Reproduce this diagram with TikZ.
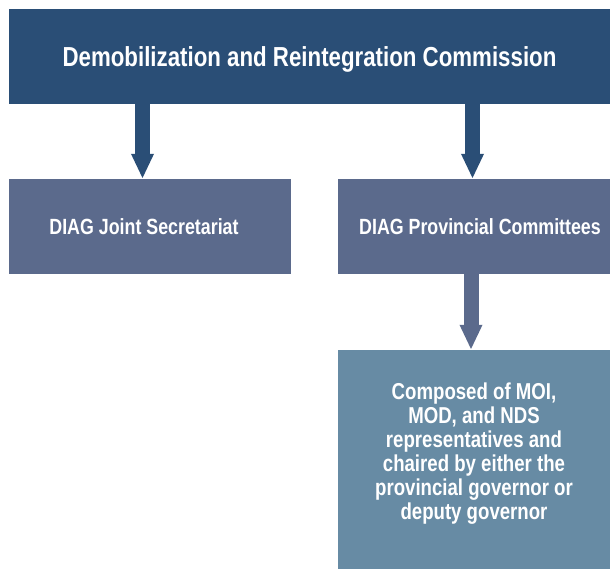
\documentclass[tikz,border=0pt]{standalone}
\usepackage{fontspec}
\setmainfont{Liberation Sans}[FakeStretch=0.81]
\usepackage{tikz}
\usetikzlibrary{arrows.meta}
\usepackage{xcolor}

\definecolor{topblue}{HTML}{2A4E76}
\definecolor{midblue}{HTML}{5B6A8C}
\definecolor{lowblue}{HTML}{678BA4}

\begin{document}
\begin{tikzpicture}[x=1pt, y=-1pt,
    box/.style={inner sep=0pt, text=white, font=\bfseries},
    arr/.style={line width=15pt, -{Triangle[width=21pt, length=25pt]}}]
    \useasboundingbox (0, 0) rectangle (610, 569);

    \node[box, fill=topblue, minimum width=601pt, minimum height=95pt, text depth=0pt, font=\bfseries\fontsize{27.5}{32}\selectfont] (drc) at (309.5, 56.5) {Demobilization and Reintegration Commission};
    \node[box, fill=midblue, minimum width=282pt, minimum height=95pt, text depth=0pt, font=\bfseries\fontsize{22}{26}\selectfont] (secr) at (150, 226.5) {\hspace*{-12pt}DIAG Joint Secretariat};
    \node[box, fill=midblue, minimum width=272pt, minimum height=95pt, text depth=0pt, font=\bfseries\fontsize{22}{26}\selectfont] (prov) at (474, 226.5) {\hspace*{12pt}DIAG Provincial Committees};
    \node[box, fill=lowblue, minimum width=272pt, minimum height=219pt] (comp) at (474, 459.5) {};
    \node[box, align=center, font=\bfseries\fontsize{23}{24}\selectfont] (comptext) at ([yshift=6pt]comp.center) {Composed of MOI,\\MOD, and NDS\\representatives and\\chaired by either the\\provincial governor or\\deputy governor};

    \draw[arr, topblue] ([xshift=-7.5pt]secr.north |- drc.south) -- ([xshift=-7.5pt]secr.north);
    \draw[arr, topblue] ([xshift=-1.5pt]prov.north |- drc.south) -- ([xshift=-1.5pt]prov.north);
    \draw[arr, midblue] ([xshift=-3pt]prov.south) -- ([xshift=-3pt]comp.north);
\end{tikzpicture}
\end{document}
